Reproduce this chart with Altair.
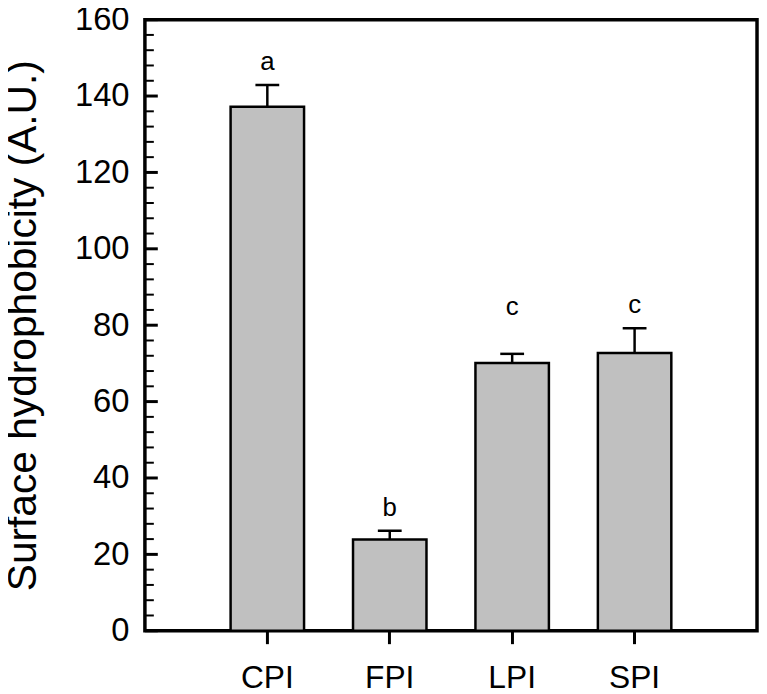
import altair as alt
import pandas as pd

categories = ["CPI", "FPI", "LPI", "SPI"]
means = [137.2, 23.9, 70.1, 72.7]
errors = [5.7, 2.3, 2.4, 6.5]
letters = ["a", "b", "c", "c"]
letter_y = [146.8, 30.1, 82.6, 83.1]

major_ticks = [0, 20, 40, 60, 80, 100, 120, 140, 160]
minor_ticks = [v for v in range(0, 161, 4) if v % 20 != 0]

df = pd.DataFrame({
    "cat": categories,
    "mean": means,
    "top": [m + e for m, e in zip(means, errors)],
    "letter": letters,
    "ly": letter_y,
})
maj = pd.DataFrame({"v": major_ticks})
mnr = pd.DataFrame({"v": minor_ticks})

FONT = "Liberation Sans"

xsc = alt.Scale(domain=categories, paddingInner=0.4, paddingOuter=0.7)
ysc = alt.Scale(domain=[0, 160], nice=False)

x_enc = alt.X("cat:N", scale=xsc, sort=categories,
              axis=alt.Axis(title=None, labelAngle=0, labelFontSize=32, labelFont=FONT,
                            labelColor="black", tickSize=13, tickWidth=3, tickColor="black",
                            labelPadding=19, domain=False))
y_axis = alt.Axis(title="Surface hydrophobicity (A.U.)", values=major_ticks,
                  titleFontSize=41, titleFont=FONT, titleFontWeight="normal", titleColor="black",
                  labelFontSize=33, labelFont=FONT, labelColor="black",
                  ticks=False, tickSize=0, labelPadding=16, domain=False, grid=False,
                  titleX=-122, titleAngle=270, titleBaseline="middle")

base = alt.Chart(df)

bars = base.mark_bar(color="#c0c0c0", stroke="black", strokeWidth=2.5).encode(
    x=x_enc,
    y=alt.Y("mean:Q", scale=ysc, axis=y_axis),
)
err = base.mark_rule(color="black", strokeWidth=2.5).encode(
    x=alt.X("cat:N", scale=xsc, sort=categories),
    y=alt.Y("mean:Q", scale=ysc),
    y2="top:Q",
)
caps = base.mark_tick(color="black", size=24, thickness=2.5, opacity=1).encode(
    x=alt.X("cat:N", scale=xsc, sort=categories),
    y=alt.Y("top:Q", scale=ysc),
)
txt = base.mark_text(fontSize=26, font=FONT, color="black", baseline="alphabetic").encode(
    x=alt.X("cat:N", scale=xsc, sort=categories),
    y=alt.Y("ly:Q", scale=ysc),
    text="letter:N",
)
major_r = alt.Chart(maj).mark_rule(color="black", strokeWidth=3).encode(
    y=alt.Y("v:Q", scale=ysc), x=alt.value(0), x2=alt.value(13))
minor_r = alt.Chart(mnr).mark_rule(color="black", strokeWidth=2).encode(
    y=alt.Y("v:Q", scale=ysc), x=alt.value(0), x2=alt.value(9))

chart = alt.layer(bars, err, caps, txt, major_r, minor_r).properties(
    width=617, height=616,
    background="white",
    autosize=alt.AutoSizeParams(type="none"),
    padding={"left": 138, "top": 9, "right": 2, "bottom": 61},
).configure_view(stroke="black", strokeWidth=3.5)

chart.save("out.html", embed_options={"renderer": "svg", "actions": False})
